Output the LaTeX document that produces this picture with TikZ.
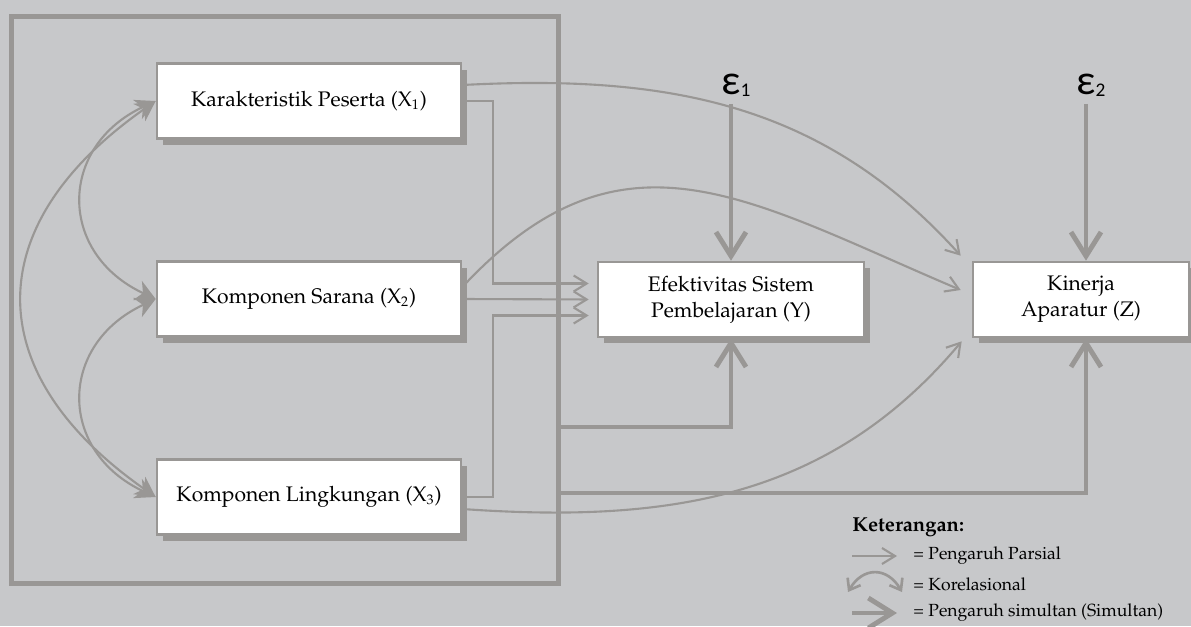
\documentclass[tikz,border=0pt]{standalone}
\usepackage[T1]{fontenc}
\usepackage{fontspec}
\usetikzlibrary{arrows.meta,shadows}
\newfontfamily\epsfont{Carlito}
\newcommand\palfont{\fontencoding{T1}\fontfamily{ppl}\selectfont}
\definecolor{bggray}{RGB}{199,200,202}
\definecolor{linegray}{RGB}{153,151,149}

\begin{document}
\begin{tikzpicture}[
    box/.style={draw=linegray, line width=1.5pt, fill=white, minimum height=1.5cm, align=center,
        drop shadow={shadow xshift=0.12cm, shadow yshift=-0.12cm, fill=linegray, opacity=1}},
    partial/.style={draw=linegray, line width=1.2pt, -{Straight Barb[length=0.26cm,width=0.32cm]}},
    simul/.style={draw=linegray, line width=2.8pt, -{Straight Barb[length=0.48cm,width=0.6cm]}},
    korel/.style={draw=linegray, line width=1.2pt,
        {Stealth[length=0.4cm,width=0.42cm,inset=0.12cm]}-{Stealth[length=0.4cm,width=0.42cm,inset=0.12cm]}},
    korelleg/.style={draw=linegray, line width=1.5pt,
        {Straight Barb[length=0.2cm,width=0.3cm]}-{Straight Barb[length=0.2cm,width=0.3cm]}},
    eps/.style={font=\epsfont\fontsize{24}{24}\selectfont, inner sep=0.15cm},
    legend/.style={font=\palfont\fontsize{10}{12}\selectfont, anchor=west, inner sep=0},
    every node/.style={font=\palfont\fontsize{12}{14.8}\selectfont}
]
\useasboundingbox (0,0) rectangle (23.82,-12.52);
\fill[bggray] (0,0) rectangle (23.82,-12.52);

\node[box, minimum width=6.08cm] (X1) at (6.18,-2.02) {Karakteristik Peserta (X\textsubscript{1})};
\node[box, minimum width=6.08cm] (X2) at (6.18,-5.98) {Komponen Sarana (X\textsubscript{2})};
\node[box, minimum width=6.08cm] (X3) at (6.18,-9.94) {Komponen Lingkungan (X\textsubscript{3})};
\node[box, minimum width=5.32cm] (Y) at (14.62,-5.99) {Efektivitas Sistem\\Pembelajaran (Y)};
\node[box, minimum width=4.32cm] (Z) at (21.62,-5.99) {Kinerja\\Aparatur (Z)};

\node[eps] (e1) at (14.62,-1.7) {ε\rlap{\fontsize{11}{11}\selectfont\raisebox{-1pt}{1}}};
\node[eps] (e2) at (21.72,-1.7) {ε\rlap{\fontsize{11}{11}\selectfont\raisebox{-1pt}{2}}};

\draw[korel] (X1.west) to[out=205, in=155, looseness=1.4] (X2.west);
\draw[korel] (X2.west) to[out=205, in=155, looseness=1.4] (X3.west);
\draw[korel] (X1.west) to[out=215, in=145, looseness=1.4] (X3.west);

\draw[partial, shorten >=0.16cm] (X1.east) -- ++(0.62,0) |- ([yshift=0.32cm]Y.west);
\draw[partial, shorten >=0.16cm] (X2.east) -- (Y.west);
\draw[partial, shorten >=0.16cm] (X3.east) -- ++(0.62,0) |- ([yshift=-0.32cm]Y.west);

\draw[partial] ([yshift=0.32cm]X1.east) to[out=3, in=132] ([xshift=-0.22cm,yshift=0.1cm]Z.north west);
\draw[partial] ([yshift=0.24cm]X2.east) to[out=47, in=157, looseness=1.2] ([xshift=-0.22cm,yshift=0.19cm]Z.west);
\draw[partial] ([yshift=-0.24cm]X3.east) to[out=-4, in=230] ([xshift=-0.2cm,yshift=-0.06cm]Z.south west);

\draw[simul] (e1) -- (Y);
\draw[simul] (e2) -- (e2 |- Z.north);

\coordinate (s1) at (11.16,-8.54);
\coordinate (s2) at (11.16,-9.86);
\draw[simul] (s1) -| (Y.south);
\draw[simul] (s2) -| (e2 |- Z.south);

\draw[draw=linegray, line width=0.1cm] (0.23,-0.32) rectangle (11.16,-11.66);

\node[legend, font=\palfont\fontsize{11.5}{13}\selectfont\bfseries] (ket) at (17.04,-10.54) {Keterangan:};
\node[legend] (t1) at (18.26,-11.12) {= Pengaruh Parsial};
\node[legend] (t2) at (18.26,-11.68) {= Korelasional};
\node[legend] (t3) at (18.26,-12.26) {= Pengaruh simultan (Simultan)};

\coordinate (a1) at (17.04,-11.12);
\coordinate (a2) at (16.96,-11.84);
\coordinate (a3) at (17.04,-12.26);
\draw[partial, shorten >=0.32cm] (a1) -- (t1.west);
\draw[korelleg] (a2) to[out=60, in=120, looseness=1.4] ([xshift=-0.22cm,yshift=-0.16cm]t2.west);
\draw[simul, shorten >=0.32cm] (a3) -- (t3.west);
\end{tikzpicture}
\end{document}
